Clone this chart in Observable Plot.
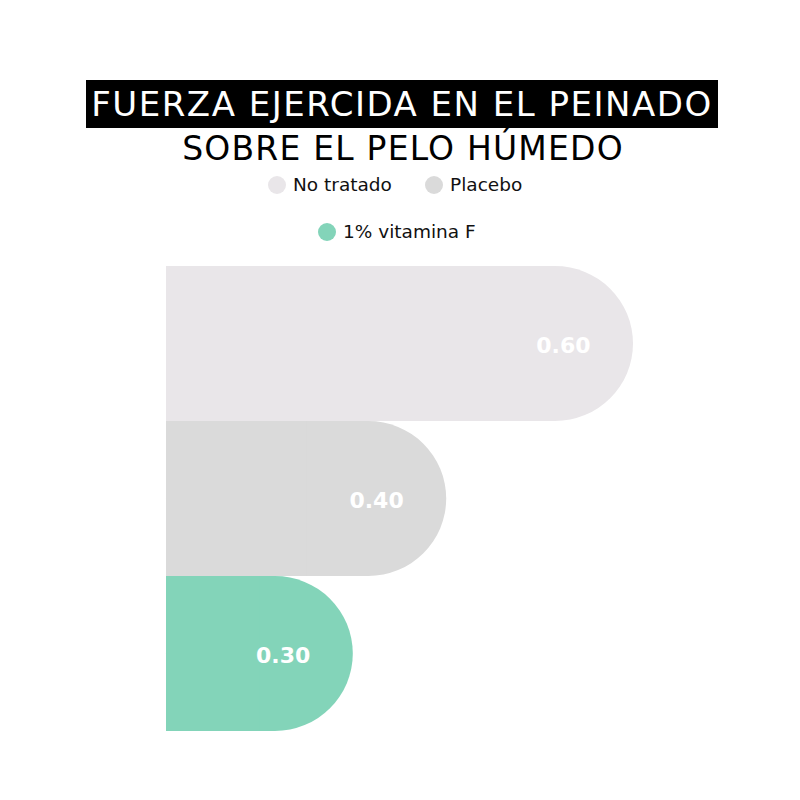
<!DOCTYPE html>
<html>
<head>
<meta charset="utf-8">
<script src="https://cdn.jsdelivr.net/npm/d3@7"></script>
<script src="https://cdn.jsdelivr.net/npm/@observablehq/plot@0.6"></script>
<style>
  html, body { margin: 0; padding: 0; background: #fff; }
  #root { position: relative; width: 800px; height: 800px; font-family: "DejaVu Sans", sans-serif; }
  #title1 { position: absolute; left: 86px; top: 80px; width: 632px; height: 48px; background: #000; color: #fff;
            font-size: 34px; line-height: 48px; text-align: center; letter-spacing: 1.5px; white-space: nowrap; }
  #title2 { position: absolute; left: 0; top: 127px; width: 806px; height: 44px; color: #000;
            font-size: 33px; line-height: 44px; text-align: center; letter-spacing: 1.2px; white-space: nowrap; }
  .leg { position: absolute; font-size: 18.5px; color: #111; white-space: nowrap; display: flex; align-items: center; }
  .sw { display: inline-block; width: 18px; height: 18px; border-radius: 50%; margin-right: 7px; }
  #chart { position: absolute; left: 0; top: 250px; }
</style>
</head>
<body>
<div id="root">
  <div id="title1">FUERZA EJERCIDA EN EL PEINADO</div>
  <div id="title2">SOBRE EL PELO HÚMEDO</div>
  <div id="legend"></div>
  <div id="chart"></div>
</div>
<script>
const categories = ["No tratado", "Placebo", "1% vitamina F"];
const values = [0.60, 0.40, 0.30];
const labels = ["0.60", "0.40", "0.30"];
const colors = ["#e9e6e9", "#dadada", "#83d4b9"];
const baseline = 0.1;

const data = categories.map((c, i) => ({ cat: c, value: values[i], label: labels[i] }));

// legend
const legendPos = [
  { left: 268, top: 174 },
  { left: 425, top: 174 },
  { left: 318, top: 221 }
];
const legend = document.getElementById("legend");
categories.forEach((c, i) => {
  const d = document.createElement("div");
  d.className = "leg";
  d.style.left = legendPos[i].left + "px";
  d.style.top = legendPos[i].top + "px";
  d.innerHTML = `<span class="sw" style="background:${colors[i]}"></span>${c}`;
  legend.appendChild(d);
});

const colorScale = { domain: categories, range: colors };

const chart = Plot.plot({
  width: 800,
  height: 500,
  marginLeft: 166,
  marginRight: 167,
  marginTop: 15,
  marginBottom: 19,
  x: { domain: [baseline, 0.6], axis: null },
  y: { domain: categories, padding: 0, axis: null },
  color: colorScale,
  style: { fontFamily: "DejaVu Sans, sans-serif", background: "white" },
  marks: [
    // rounded full bar
    Plot.barX(data, { x1: () => baseline, x2: "value", y: "cat", fill: "cat", rx: 78, inset: 0 }),
    // square left half
    Plot.barX(data, { x1: () => baseline, x2: d => (baseline + d.value) / 2, y: "cat", fill: "cat", inset: 0 }),
    Plot.text(data, { x: "value", y: "cat", text: "label", textAnchor: "end", dx: -43, dy: 2, fill: "white",
                      fontSize: 22, fontWeight: "bold" })
  ]
});
document.getElementById("chart").appendChild(chart);
</script>
</body>
</html>
